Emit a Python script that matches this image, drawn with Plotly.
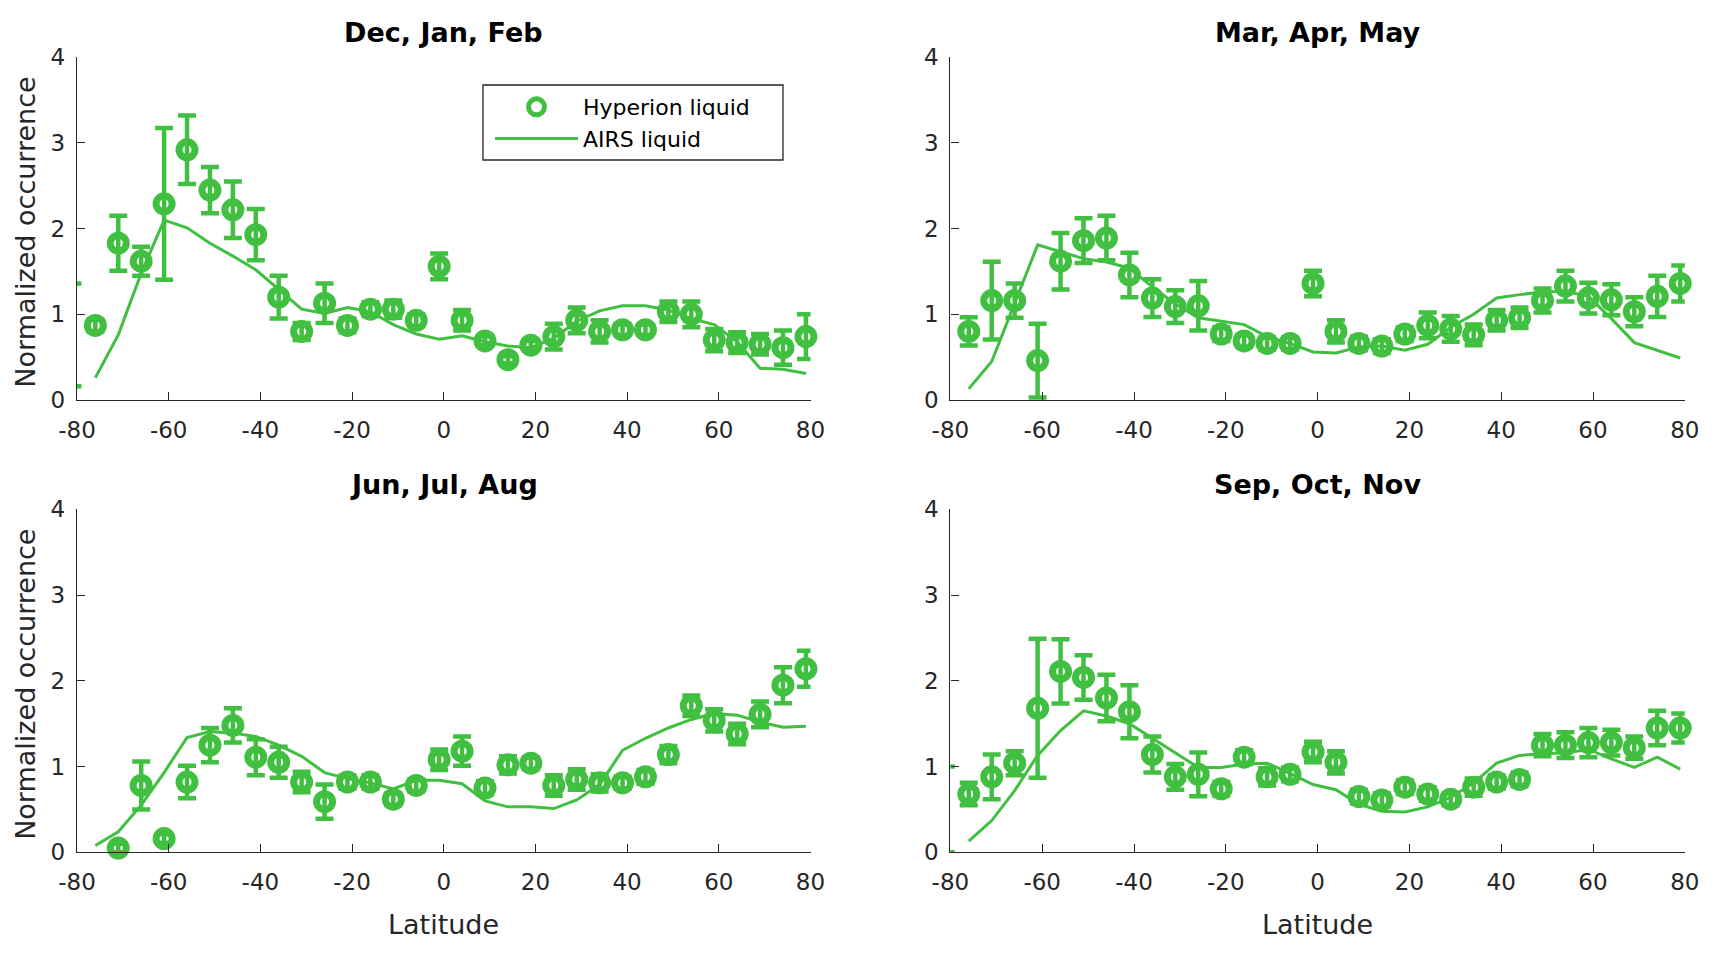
import plotly.graph_objects as go

# ---------------- data ----------------
LAT = [-81, -76, -71, -66, -61, -56, -51, -46, -41, -36, -31, -26, -21, -16, -11, -6,
       -1, 4, 9, 14, 19, 24, 29, 34, 39, 44, 49, 54, 59, 64, 69, 74, 79]

SEASONS = ["Dec, Jan, Feb", "Mar, Apr, May", "Jun, Jul, Aug", "Sep, Oct, Nov"]

DJF_HYP = [0.76, 0.87, 1.83, 1.62, 2.29, 2.92, 2.45, 2.22, 1.93, 1.20, 0.80, 1.13, 0.87, 1.06, 1.06, 0.93,
           1.56, 0.93, 0.69, 0.47, 0.64, 0.74, 0.93, 0.80, 0.82, 0.82, 1.03, 1.00, 0.70, 0.67, 0.65, 0.61, 0.74]
DJF_ERR = [0.60, 0.07, 0.32, 0.17, 0.885, 0.40, 0.27, 0.33, 0.30, 0.25, 0.10, 0.23, 0.08, 0.08, 0.10, 0.07,
           0.15, 0.12, 0.05, 0.04, 0.05, 0.15, 0.15, 0.13, 0.06, 0.06, 0.12, 0.15, 0.13, 0.12, 0.12, 0.20, 0.26]
DJF_AIRS = [None, 0.26, 0.76, 1.48, 2.10, 2.01, 1.83, 1.68, 1.52, 1.29, 1.06, 1.01, 1.08, 1.03, 0.88, 0.77,
            0.71, 0.75, 0.68, 0.63, 0.61, 0.72, 0.92, 1.04, 1.10, 1.10, 1.05, 0.95, 0.88, 0.68, 0.37, 0.36, 0.31]

MAM_HYP = [None, 0.80, 1.16, 1.16, 0.46, 1.62, 1.86, 1.89, 1.46, 1.19, 1.09, 1.10, 0.77, 0.69, 0.66, 0.66,
           1.36, 0.80, 0.66, 0.63, 0.77, 0.87, 0.83, 0.76, 0.93, 0.96, 1.16, 1.33, 1.19, 1.17, 1.03, 1.21, 1.36]
MAM_ERR = [0.0, 0.165, 0.455, 0.20, 0.43, 0.33, 0.26, 0.26, 0.26, 0.22, 0.19, 0.29, 0.08, 0.07, 0.07, 0.07,
           0.15, 0.13, 0.08, 0.08, 0.08, 0.15, 0.15, 0.12, 0.12, 0.12, 0.14, 0.18, 0.18, 0.18, 0.17, 0.24, 0.21]
MAM_AIRS = [None, 0.13, 0.45, 1.13, 1.81, 1.73, 1.65, 1.61, 1.54, 1.32, 1.12, 0.96, 0.92, 0.88, 0.74, 0.66,
            0.56, 0.55, 0.62, 0.63, 0.58, 0.65, 0.85, 1.00, 1.19, 1.23, 1.26, 1.27, 1.21, 0.95, 0.67, 0.58, 0.49]

JJA_HYP = [None, None, 0.05, 0.78, 0.16, 0.82, 1.25, 1.48, 1.11, 1.05, 0.82, 0.59, 0.82, 0.82, 0.62, 0.78,
           1.08, 1.18, 0.75, 1.02, 1.04, 0.78, 0.85, 0.81, 0.81, 0.88, 1.14, 1.71, 1.54, 1.38, 1.61, 1.95, 2.14]
JJA_ERR = [0.0, 0.0, 0.05, 0.28, 0.05, 0.19, 0.20, 0.20, 0.21, 0.18, 0.12, 0.20, 0.08, 0.08, 0.07, 0.07,
           0.12, 0.17, 0.08, 0.10, 0.07, 0.12, 0.12, 0.10, 0.07, 0.08, 0.10, 0.12, 0.13, 0.12, 0.15, 0.21, 0.21]
JJA_AIRS = [None, 0.08, 0.24, 0.55, 0.93, 1.34, 1.41, 1.39, 1.35, 1.25, 1.12, 0.93, 0.86, 0.81, 0.74, 0.84,
            0.84, 0.80, 0.60, 0.53, 0.53, 0.51, 0.61, 0.79, 1.19, 1.33, 1.45, 1.55, 1.62, 1.60, 1.52, 1.46, 1.47]

SON_HYP = [0.50, 0.68, 0.88, 1.04, 1.68, 2.11, 2.04, 1.80, 1.64, 1.14, 0.88, 0.91, 0.74, 1.11, 0.88, 0.91,
           1.17, 1.05, 0.65, 0.61, 0.76, 0.68, 0.62, 0.76, 0.82, 0.85, 1.25, 1.25, 1.28, 1.28, 1.22, 1.45, 1.45]
SON_ERR = [0.50, 0.13, 0.26, 0.14, 0.81, 0.375, 0.26, 0.27, 0.31, 0.21, 0.15, 0.255, 0.08, 0.08, 0.10, 0.08,
           0.12, 0.13, 0.08, 0.08, 0.08, 0.08, 0.07, 0.10, 0.08, 0.08, 0.13, 0.15, 0.17, 0.15, 0.13, 0.20, 0.17]
SON_AIRS = [None, 0.13, 0.37, 0.72, 1.13, 1.42, 1.65, 1.59, 1.50, 1.33, 1.16, 0.99, 0.99, 1.03, 1.04, 0.92,
            0.79, 0.73, 0.56, 0.48, 0.47, 0.53, 0.64, 0.81, 1.04, 1.13, 1.15, 1.16, 1.20, 1.09, 0.99, 1.11, 0.97]

X_TICKS = [-80, -60, -40, -20, 0, 20, 40, 60, 80]
X_TICK_TEXT = ["-80", "-60", "-40", "-20", "0", "20", "40", "60", "80"]
Y_TICKS = [0, 1, 2, 3, 4]
Y_TICK_TEXT = ["0", "1", "2", "3", "4"]

HYP = [DJF_HYP, MAM_HYP, JJA_HYP, SON_HYP]
ERR = [DJF_ERR, MAM_ERR, JJA_ERR, SON_ERR]
AIRS = [DJF_AIRS, MAM_AIRS, JJA_AIRS, SON_AIRS]

# ---------------- style ----------------
W, H = 1720, 958
OFF = 8  # page offset of the figure
GREEN = "rgb(64,191,64)"
AX = "#262626"
FONT = "DejaVu Sans, Liberation Sans, Arial, sans-serif"
TICK_SIZE = 23
LABEL_SIZE = 27
TITLE_SIZE = 27
LEGEND_SIZE = 22


def px(xp):
    return (xp - OFF) / W


def py(yp):
    return 1 - (yp - OFF) / H


# panel boxes in pixels: (left, right, top, bottom)
BOXES = [(77, 810.5, 57.3, 400.0), (950.4, 1684.8, 57.3, 400.0),
         (77, 810.5, 509.4, 852.3), (950.4, 1684.8, 509.4, 852.3)]
LEGEND_BOX = (483, 783, 85, 160)

fig = go.Figure()
layout = dict(
    width=W, height=H, margin=dict(l=0, r=0, t=0, b=0, autoexpand=False),
    paper_bgcolor="white", plot_bgcolor="white",
    font=dict(family=FONT, color=AX, size=TICK_SIZE),
    showlegend=True,
)
annotations = []

for i in range(4):
    sfx = "" if i == 0 else str(i + 1)
    xa, ya = "x" + sfx, "y" + sfx
    l, r, t, b = BOXES[i]
    layout["xaxis" + sfx] = dict(
        domain=[px(l), px(r)], range=[-80, 80], anchor=ya,
        tickvals=X_TICKS, ticktext=X_TICK_TEXT,
        ticks="inside", ticklen=8, tickwidth=1.3, tickcolor=AX,
        showline=True, linecolor=AX, linewidth=1.3, showgrid=False, zeroline=False,
        tickfont=dict(size=TICK_SIZE, color=AX, family=FONT), ticklabelstandoff=9,
        automargin=False,
    )
    layout["yaxis" + sfx] = dict(
        domain=[py(b), py(t)], range=[0, 4], anchor=xa,
        tickvals=Y_TICKS, ticktext=Y_TICK_TEXT,
        ticks="inside", ticklen=8, tickwidth=1.3, tickcolor=AX,
        showline=True, linecolor=AX, linewidth=1.3, showgrid=False, zeroline=False,
        tickfont=dict(size=TICK_SIZE, color=AX, family=FONT), ticklabelstandoff=6,
        automargin=False,
    )
    # AIRS line
    fig.add_trace(go.Scatter(
        x=LAT, y=AIRS[i], mode="lines", xaxis=xa, yaxis=ya,
        line=dict(color=GREEN, width=3), name="AIRS liquid",
        showlegend=(i == 0), legendrank=2, hoverinfo="skip",
    ))
    # Hyperion error bars (clipped to the axes)
    fig.add_trace(go.Scatter(
        x=LAT, y=HYP[i], mode="markers", xaxis=xa, yaxis=ya,
        marker=dict(size=2, opacity=0, color=GREEN),
        error_y=dict(type="data", array=ERR[i], visible=True, color=GREEN,
                     thickness=4.5, width=9),
        showlegend=False, hoverinfo="skip",
    ))
    # Hyperion markers (not clipped; centres outside the range are hidden)
    fig.add_trace(go.Scatter(
        x=LAT, y=HYP[i], mode="markers", xaxis=xa, yaxis=ya, cliponaxis=False,
        marker=dict(symbol="circle-open", size=16, color=GREEN,
                    line=dict(color=GREEN, width=7)),
        name="Hyperion liquid", showlegend=(i == 0), legendrank=1,
    ))
    # panel title
    annotations.append(dict(
        text="<b>" + SEASONS[i] + "</b>", xref="paper", yref="paper",
        x=px((l + r) / 2), y=py(t - 25), xanchor="center", yanchor="middle",
        showarrow=False, font=dict(size=TITLE_SIZE, color="black", family=FONT),
    ))
    # y label on left panels
    if i in (0, 2):
        annotations.append(dict(
            text="Normalized occurrence", xref="paper", yref="paper",
            x=px(26), y=py((t + b) / 2 + 4), xanchor="center", yanchor="middle",
            textangle=-90, showarrow=False, font=dict(size=LABEL_SIZE, color=AX, family=FONT),
        ))
    # x label on bottom panels
    if i in (2, 3):
        annotations.append(dict(
            text="Latitude", xref="paper", yref="paper",
            x=px((l + r) / 2), y=py(924), xanchor="center", yanchor="middle",
            showarrow=False, font=dict(size=LABEL_SIZE, color=AX, family=FONT),
        ))

lb = LEGEND_BOX
layout["shapes"] = [dict(
    type="rect", xref="paper", yref="paper",
    x0=px(lb[0]), x1=px(lb[1]), y0=py(lb[3]), y1=py(lb[2]),
    line=dict(color=AX, width=1.3), fillcolor="white", layer="above",
)]
layout["annotations"] = annotations
layout["legend"] = dict(
    x=px(lb[0] + 7), y=py(lb[2] + 1), xanchor="left", yanchor="top",
    bgcolor="rgba(0,0,0,0)", borderwidth=0,
    font=dict(size=LEGEND_SIZE, color="black", family=FONT), itemwidth=83,
    tracegroupgap=0,
)
fig.update_layout(**layout)
fig.write_html("out.html")
